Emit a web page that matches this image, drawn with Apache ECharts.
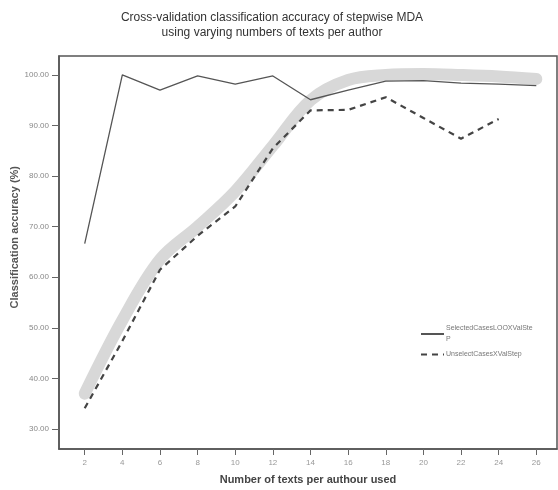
<!DOCTYPE html>
<html>
<head>
<meta charset="utf-8">
<script src="https://cdn.jsdelivr.net/npm/echarts@6/dist/echarts.min.js"></script>
<style>
html,body{margin:0;padding:0;background:#fff;}
#chart{width:558px;height:490px;}
</style>
</head>
<body>
<div id="chart"></div>
<script>
const xValues = [2, 4, 6, 8, 10, 12, 14, 16, 18, 20, 22, 24, 26];
const selectedLOO = [66.67, 100.0, 97.0, 99.8, 98.2, 99.8, 95.1, 97.0, 98.8, 98.9, 98.4, 98.2, 97.9];
const unselectXVal = [34.1, 47.4, 61.5, 68.2, 74.0, 85.5, 93.0, 93.1, 95.6, 91.5, 87.4, 91.3, null];
const fitBand = [37.0, 51.5, 63.5, 70.0, 77.0, 86.0, 95.0, 99.0, 100.0, 100.2, 100.0, 99.7, 99.2];
const yTicks = [30, 40, 50, 60, 70, 80, 90, 100];
const titleText = 'Cross-validation classification accuracy of stepwise MDA\nusing varying numbers of texts per author';
const yTitle = 'Classification accuracy (%)';
const xTitle = 'Number of texts per authour used';
const nameSel = 'SelectedCasesLOOXValStep';
const nameUns = 'UnselectCasesXValStep';
const nameSelWrapped = 'SelectedCasesLOOXValSte\nP';

function pairs(vals) {
  return xValues.map((x, i) => [x, vals[i]]).filter(p => p[1] !== null);
}

const chart = echarts.init(document.getElementById('chart'), null, {renderer: 'canvas'});
chart.setOption({
  animation: false,
  backgroundColor: '#fff',
  title: {
    text: titleText,
    left: 267,
    top: 5,
    textAlign: 'center',
    textStyle: {fontFamily: 'Liberation Sans', fontSize: 12, fontWeight: 'normal', color: '#333', lineHeight: 15}
  },
  grid: {
    left: 59, top: 56, right: 1, bottom: 40,
    show: true, borderColor: '#555', borderWidth: 1.5
  },
  legend: {
    orient: 'vertical',
    left: 415,
    top: 318,
    itemWidth: 23,
    itemHeight: 8,
    itemGap: 4,
    data: [nameSel, nameUns],
    itemStyle: {opacity: 0},
    formatter: function (n) { return n === nameSel ? nameSelWrapped : n; },
    textStyle: {fontFamily: 'Liberation Sans', fontSize: 7, color: '#777', lineHeight: 11, padding: [0, 0, 0, -3]}
  },
  xAxis: {
    type: 'value',
    min: 0.634,
    max: 27.1,
    name: xTitle,
    nameLocation: 'middle',
    nameGap: 25,
    nameTextStyle: {fontFamily: 'Liberation Sans', fontSize: 11, fontWeight: 'bold', color: '#444'},
    axisLine: {show: true, lineStyle: {color: '#555', width: 1.5}},
    axisTick: {show: true, customValues: xValues, length: 6, lineStyle: {color: '#666'}},
    axisLabel: {customValues: xValues, margin: 10, fontSize: 8, color: '#999', fontFamily: 'Liberation Sans'},
    splitLine: {show: false}
  },
  yAxis: {
    type: 'value',
    min: 26.05,
    max: 103.75,
    axisLine: {show: true, lineStyle: {color: '#555', width: 1.5}},
    axisTick: {show: true, customValues: yTicks, length: 7, lineStyle: {color: '#666'}},
    axisLabel: {customValues: yTicks, margin: 10, fontSize: 8, color: '#888', fontFamily: 'Liberation Sans',
      formatter: v => v.toFixed(2)},
    splitLine: {show: false}
  },
  graphic: [{
    type: 'text',
    left: 9,
    top: 166,
    rotation: Math.PI / 2,
    style: {text: yTitle, font: 'bold 11px "Liberation Sans"', fill: '#555'}
  }],
  series: [
    {
      name: 'fit',
      type: 'line',
      data: pairs(fitBand),
      smooth: 0.35,
      symbol: 'none',
      silent: true,
      z: 1,
      lineStyle: {color: '#d8d8d8', width: 12, cap: 'round', join: 'round'}
    },
    {
      name: nameSel,
      type: 'line',
      data: pairs(selectedLOO),
      symbol: 'none',
      z: 3,
      itemStyle: {color: '#555'},
      lineStyle: {color: '#555', width: 1.3}
    },
    {
      name: nameUns,
      type: 'line',
      data: pairs(unselectXVal),
      symbol: 'none',
      z: 3,
      itemStyle: {color: '#444'},
      lineStyle: {color: '#444', width: 2.2, type: [6, 5]}
    }
  ]
});
</script>
</body>
</html>
